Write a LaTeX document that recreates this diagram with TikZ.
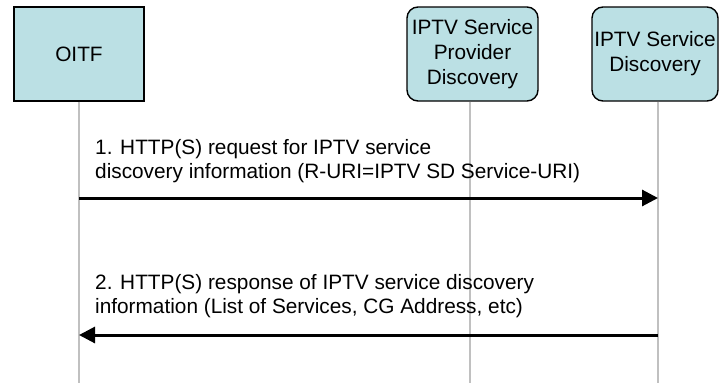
\documentclass[tikz,border=0pt]{standalone}
\usepackage{fontspec}
\setmainfont{Liberation Sans}
\usetikzlibrary{arrows.meta}
\definecolor{boxfill}{RGB}{187,224,228}
\definecolor{lifegray}{RGB}{192,192,192}
\begin{document}
\begin{tikzpicture}[x=1pt,y=-1pt,
  every node/.style={font=\fontsize{20.8}{24}\selectfont},
  entity/.style={draw=black,line width=1.4pt,fill=boxfill,inner sep=0pt,align=center,
    font=\fontsize{20.8}{25}\selectfont},
  roundent/.style={entity,rounded corners=11pt},
  lifeline/.style={draw=lifegray,line width=1.6pt},
  msg/.style={draw=black,line width=3pt,-{Triangle[length=16pt,width=16pt]}},
  msglabel/.style={anchor=north west,inner sep=0pt,align=left}]
\useasboundingbox (0,0) rectangle (719,383);
% entities
\node[entity,minimum width=130pt,minimum height=94pt] (oitf) at (79,54) {OITF};
\node[roundent,minimum width=131pt,minimum height=94pt] (spd) at (472.5,54) {IPTV Service\\Provider\\Discovery};
\node[roundent,minimum width=126pt,minimum height=94pt] (sd) at (655,54) {IPTV Service\\Discovery};
% lifeline ends
\coordinate (oitfend) at (79,383);
\coordinate (spdend) at (470,383);
\coordinate (sdend) at (658,383);
\draw[lifeline] (oitf.south -| oitfend) -- (oitfend);
\draw[lifeline] (spd.south -| spdend) -- (spdend);
\draw[lifeline] (sd.south -| sdend) -- (sdend);
% messages
\coordinate (m1a) at (79,198);
\coordinate (m1b) at (658,198);
\coordinate (m2a) at (658,335);
\coordinate (m2b) at (79,335);
\draw[msg] (m1a) -- (m1b);
\draw[msg] (m2a) -- (m2b);
\node[msglabel] (l1) at (95,139) {1. HTTP(S) request for IPTV service\\discovery information (R-URI=IPTV SD Service-URI)};
\node[msglabel] (l2) at (95,274) {2. HTTP(S) response of IPTV service discovery\\information (List of Services, CG Address, etc)};
\end{tikzpicture}
\end{document}
